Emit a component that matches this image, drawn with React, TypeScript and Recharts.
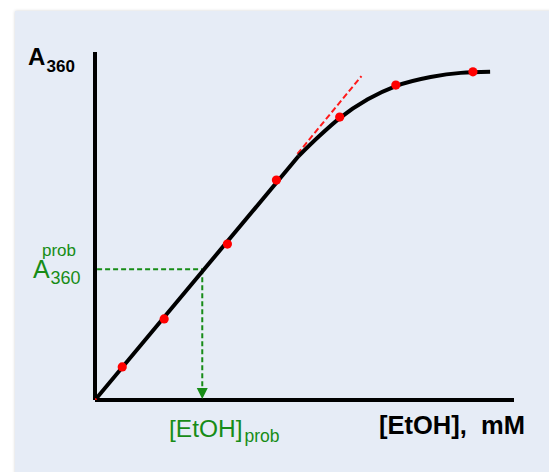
import React from "react";
import { ComposedChart, Line, Scatter, XAxis, YAxis, ReferenceLine } from "recharts";

// Fitted calibration curve (black): straight part, then saturating part
const straightX = [0, 2.51, 4.86];
const straightY = [0, 3.62, 7.01];
const bendX = [4.86, 5.34, 5.84, 6.51, 7.18, 8.01, 8.73, 9.43];
const bendY = [7.01, 7.57, 8.1, 8.64, 9.02, 9.28, 9.4, 9.43];
// Measured points (red)
const pointX = [0.65, 1.65, 3.16, 4.33, 5.84, 7.18, 9.02];
const pointY = [0.95, 2.33, 4.48, 6.32, 8.13, 9.05, 9.43];
// Linear extension (red dashed)
const tangentX = [4.83, 6.36];
const tangentY = [7.07, 9.31];
// Probe reading (green)
const probX = 2.56;
const probY = 3.76;
const arrowY = 0.32;

const GREEN = "#178c17";
const FONT = "'Liberation Sans', Arial, sans-serif";

const straight = straightX.map((x, i) => ({ x, y: straightY[i] }));
const bend = bendX.map((x, i) => ({ x, y: bendY[i] }));
const points = pointX.map((x, i) => ({ x, y: pointY[i] }));
const tangent = tangentX.map((x, i) => ({ x, y: tangentY[i] }));
const probH = [
  { x: 0.05, y: probY },
  { x: probX, y: probY },
];
const probV = [
  { x: probX, y: probY },
  { x: probX, y: arrowY },
];
const arrow = [{ x: probX, y: 0 }];
const origin = [{ x: 0, y: 0 }];

const W = 549;
const H = 464;

const RedDot = (props: any) => (
  <circle cx={props.cx} cy={props.cy} r={4.6} fill="#ff0000" />
);
const TinyDot = (props: any) => (
  <circle cx={props.cx} cy={props.cy} r={2} fill="#ff0000" />
);
const Arrow = (props: any) => {
  const { cx, cy } = props;
  return (
    <path
      d={`M${cx - 5.5},${cy - 12} L${cx + 5.5},${cy - 12} L${cx},${cy - 1} Z`}
      fill={GREEN}
    />
  );
};

export default function App() {
  return (
    <div style={{ position: "relative", width: W, height: H }}>
      <div
        style={{
          position: "absolute",
          left: 7,
          top: 3,
          width: 538,
          height: 470,
          background: "#e6ecf6",
          boxShadow: "0 0 3px rgba(0,0,0,0.18)",
        }}
      />
      <div style={{ position: "absolute", left: 0, top: 0 }}>
        <ComposedChart
          width={W}
          height={H}
          margin={{ top: 44, left: 87, right: 43, bottom: 72 }}
        >
          <XAxis type="number" dataKey="x" domain={[0, 10]} allowDataOverflow hide />
          <YAxis type="number" dataKey="y" domain={[0, 10]} allowDataOverflow hide />
          <ReferenceLine x={0} stroke="#000" strokeWidth={4} />
          <ReferenceLine y={0} stroke="#000" strokeWidth={4} />
          <Line
            data={probH}
            dataKey="y"
            type="linear"
            stroke={GREEN}
            strokeWidth={2}
            strokeDasharray="5 3"
            dot={false}
            activeDot={false}
            isAnimationActive={false}
          />
          <Line
            data={probV}
            dataKey="y"
            type="linear"
            stroke={GREEN}
            strokeWidth={2}
            strokeDasharray="5 3"
            dot={false}
            activeDot={false}
            isAnimationActive={false}
          />
          <Scatter data={arrow} dataKey="y" shape={Arrow} isAnimationActive={false} />
          <Line
            data={tangent}
            dataKey="y"
            type="linear"
            stroke="#ff1a1a"
            strokeWidth={2}
            strokeDasharray="6 3"
            dot={false}
            activeDot={false}
            isAnimationActive={false}
          />
          <Line
            data={straight}
            dataKey="y"
            type="linear"
            stroke="#000"
            strokeWidth={4}
            dot={false}
            activeDot={false}
            isAnimationActive={false}
          />
          <Line
            data={bend}
            dataKey="y"
            type="monotone"
            stroke="#000"
            strokeWidth={4}
            strokeLinejoin="round"
            dot={false}
            activeDot={false}
            isAnimationActive={false}
          />
          <Scatter data={points} dataKey="y" shape={RedDot} isAnimationActive={false} />
          <Scatter data={origin} dataKey="y" shape={TinyDot} isAnimationActive={false} />
        </ComposedChart>
      </div>
      <svg
        width={W}
        height={H}
        style={{ position: "absolute", left: 0, top: 0, pointerEvents: "none" }}
      >
        <g fontFamily={FONT}>
          <text x={20} y={57} fontSize={24} fontWeight="bold" fill="#000">
            A
          </text>
          <text x={38.5} y={63.5} fontSize={17} fontWeight="bold" fill="#000">
            360
          </text>
          <text x={34} y={247.5} fontSize={17} fill={GREEN}>
            prob
          </text>
          <text x={25} y={270} fontSize={25} fill={GREEN}>
            A
          </text>
          <text x={42.5} y={276} fontSize={18} fill={GREEN}>
            360
          </text>
          <text x={161} y={428.5} fontSize={24.5} fill={GREEN}>
            [EtOH]
          </text>
          <text x={236.5} y={433.5} fontSize={17.5} fill={GREEN}>
            prob
          </text>
          <text x={371} y={426} fontSize={25.5} fontWeight="bold" fill="#000">
            {"[EtOH],\u00a0\u00a0mM"}
          </text>
        </g>
      </svg>
    </div>
  );
}
